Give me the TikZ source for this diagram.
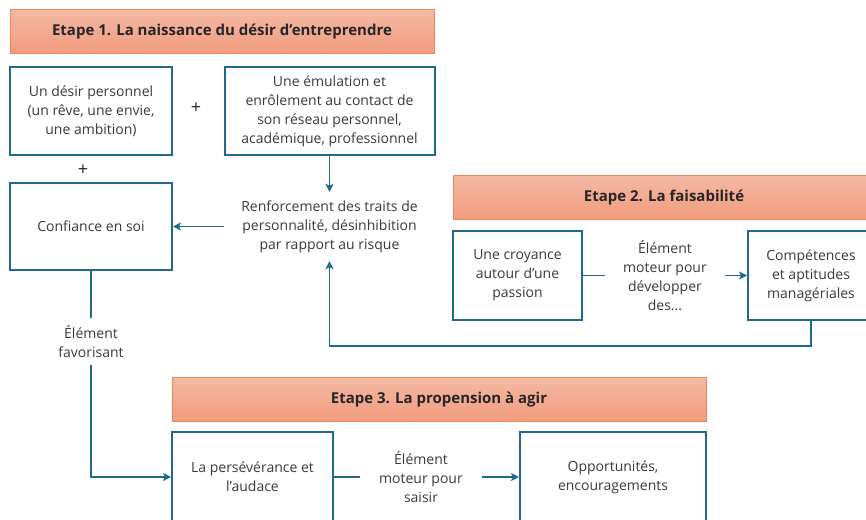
\documentclass[tikz,border=0pt]{standalone}
\usepackage{fontspec}
\setmainfont{Open Sans}
\usetikzlibrary{arrows.meta}

\definecolor{bleucadre}{HTML}{1F6A8C}
\definecolor{orangebord}{HTML}{EE8658}
\definecolor{saumonhaut}{HTML}{F4B9A3}
\definecolor{saumonbas}{HTML}{F19B7D}
\definecolor{gristexte}{HTML}{3A3A3A}

\tikzset{
  etape/.style={draw=orangebord, line width=1pt, top color=saumonhaut,
    bottom color=saumonbas, minimum height=44pt, inner sep=0pt,
    font=\bfseries\fontsize{15}{17}\selectfont, text=black!85},
  bloc/.style={draw=bleucadre, line width=2pt, fill=white, align=center,
    inner sep=2pt, text=gristexte, font=\fontsize{14}{19}\selectfont},
  libre/.style={align=center, inner sep=0pt, fill=white, text=gristexte,
    font=\fontsize{14}{19}\selectfont},
  lien/.style={draw=bleucadre, line width=1.8pt},
  fleche/.style={lien, -{Stealth[length=8pt,width=8pt,inset=2pt]}},
  plus/.style={text=black!85, font=\fontsize{18}{18}\selectfont}
}

\begin{document}
\begin{tikzpicture}[x=1pt,y=-1pt]
  \useasboundingbox (0,0) rectangle (866,519);

  % Etape 1
  \node[etape, minimum width=424pt] (e1) at (222,32) {Etape 1. La naissance du désir d’entreprendre};
  \node[bloc, minimum width=162pt, minimum height=88pt] (desir) at (91,111)
    {Un désir personnel\\(un rêve, une envie,\\une ambition)};
  \node[bloc, minimum width=210pt, minimum height=88pt] (emul) at (329.5,111)
    {Une émulation et\\enrôlement au contact de\\son réseau personnel,\\académique, professionnel};
  \node[plus] (p1) at (196,108) {+};
  \node[plus] (p2) at (83,170) {+};
  \node[bloc, minimum width=162pt, minimum height=87pt] (conf) at (91,226.5) {Confiance en soi};
  \node[libre, minimum width=210pt, minimum height=69pt] (renf) at (329.5,226.5)
    {Renforcement des traits de\\personnalité, désinhibition\\par rapport au risque};

  % Etape 2
  \node[etape, minimum width=422pt] (e2) at (664,197.5) {Etape 2. La faisabilité};
  \node[bloc, minimum width=129pt, minimum height=89pt] (croy) at (517.5,275.5)
    {Une croyance\\autour d’une\\passion};
  \node[libre, minimum width=120pt, minimum height=86pt] (mot1) at (665,275.5)
    {Élément\\moteur pour\\développer\\des...};
  \node[bloc, minimum width=126pt, minimum height=89pt] (comp) at (811,275.5)
    {Compétences\\et aptitudes\\managériales};

  % Etape 3
  \node[etape, minimum width=534pt] (e3) at (439,399.5) {Etape 3. La propension à agir};
  \node[bloc, minimum width=161pt, minimum height=90pt] (pers) at (252.5,477)
    {La persévérance et\\l’audace};
  \node[libre, minimum width=122pt, minimum height=64pt] (mot3) at (421,477)
    {Élément\\moteur pour\\saisir};
  \node[bloc, minimum width=186pt, minimum height=90pt] (opp) at (613,477)
    {Opportunités,\\encouragements};
  \node[libre, minimum width=90pt, minimum height=47pt] (fav) at (91,341.5)
    {Élément\\favorisant};

  % liaisons
  \draw[fleche] (emul.south) -- (renf.north);
  \draw[fleche] (renf.west) -- (conf.east);
  \draw[lien] (croy.east) -- (mot1.west);
  \draw[fleche] (mot1.east) -- (comp.west);
  \draw[fleche] (comp.south) -- ++(0,25) -| (renf.south);
  \draw[lien] (conf.south) -- (fav.north);
  \draw[fleche] (fav.south) |- (pers.west);
  \draw[lien] (pers.east) -- (mot3.west);
  \draw[fleche] (mot3.east) -- (opp.west);
\end{tikzpicture}
\end{document}
